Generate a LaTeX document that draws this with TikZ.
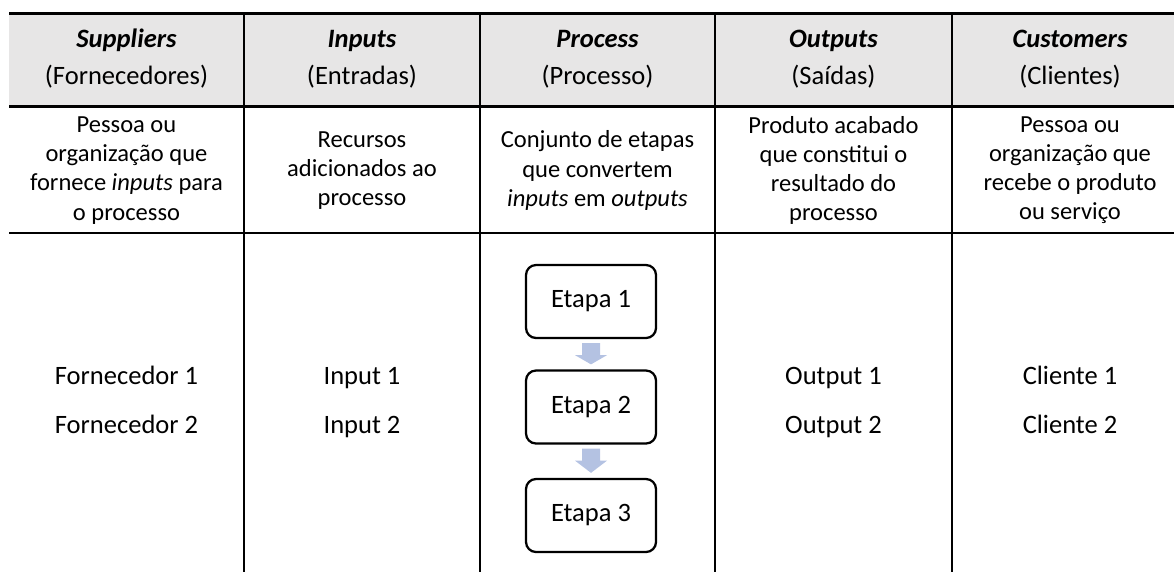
\documentclass[tikz,border=0pt]{standalone}
\usepackage{fontspec}
\setmainfont{Carlito}
\usetikzlibrary{calc}

\definecolor{headgray}{HTML}{E7E6E6}
\definecolor{flowblue}{HTML}{B4C2E2}

\begin{document}
\begin{tikzpicture}[x=0.75pt, y=-0.75pt,
    txt/.style={font=\fontsize{18.4}{21.8}\selectfont, inner sep=0pt, align=center},
    bigtxt/.style={txt, font=\fontsize{19.9}{23.5}\selectfont},
    headtitle/.style={txt, font=\fontsize{19.9}{23.5}\selectfont\bfseries\itshape, anchor=base},
    headsub/.style={bigtxt, anchor=base},
    desc/.style={txt, anchor=center},
    item/.style={bigtxt, anchor=base},
    stepbox/.style={draw, line width=1.7pt, rounded corners=7.5pt, minimum width=97.5pt,
                    minimum height=54.75pt, inner sep=0pt,
                    font=\fontsize{19.9}{23.5}\selectfont},
    flowarrow/.style={fill=flowblue, draw=none},
    thickrule/.style={line width=2.4pt},
    rule/.style={line width=1.6pt}]

  \useasboundingbox (0,0) rectangle (1174,572);

  % header band
  \fill[headgray] (9,15) rectangle (1174,106);

  % horizontal rules
  \draw[thickrule] (9,13.5) -- (1174,13.5);
  \draw[thickrule] (9,106.5) -- (1174,106.5);
  \draw[rule] (9,233) -- (1174,233);

  % column separators
  \foreach \x in {244,480,715,952}
    \draw[rule] (\x,12.5) -- (\x,572);

  % headers
  \node[headtitle] (h1) at (126.5,47) {Suppliers};
  \node[headsub]   (s1) at (126.5,84) {(Fornecedores)};
  \node[headtitle] (h2) at (362,47) {Inputs};
  \node[headsub]   (s2) at (362,84) {(Entradas)};
  \node[headtitle] (h3) at (597.5,47) {Process};
  \node[headsub]   (s3) at (597.5,84) {(Processo)};
  \node[headtitle] (h4) at (833.5,47) {Outputs};
  \node[headsub]   (s4) at (833.5,84) {(Saídas)};
  \node[headtitle] (h5) at (1070,47) {Customers};
  \node[headsub]   (s5) at (1070,84) {(Clientes)};

  % descriptions
  \node[desc] (d1) at (126.5,170.5) {Pessoa ou\\organização que\\fornece \textit{inputs} para\\o processo};
  \node[desc] (d2) at (362,170.5) {Recursos\\adicionados ao\\processo};
  \node[desc] (d3) at (597.5,170.5) {Conjunto de etapas\\que convertem\\\textit{inputs} em \textit{outputs}};
  \node[desc] (d4) at (833.5,170.5) {Produto acabado\\que constitui o\\resultado do\\processo};
  \node[desc] (d5) at (1070,170.5) {Pessoa ou\\organização que\\recebe o produto\\ou serviço};

  % items
  \node[item] (f1) at (126.5,384) {Fornecedor 1};
  \node[item] (f2) at (126.5,433) {Fornecedor 2};
  \node[item] (i1) at (362,384) {Input 1};
  \node[item] (i2) at (362,433) {Input 2};
  \node[item] (o1) at (833.5,384) {Output 1};
  \node[item] (o2) at (833.5,433) {Output 2};
  \node[item] (c1) at (1070,384) {Cliente 1};
  \node[item] (c2) at (1070,433) {Cliente 2};

  % process steps
  \node[stepbox] (e1) at (591,301.5) {Etapa 1};
  \node[stepbox] (e2) at (591,407) {Etapa 2};
  \node[stepbox] (e3) at (591,515.5) {Etapa 3};

  % block arrows between steps
  \foreach \a/\b in {e1/e2,e2/e3}{
    \fill[flowarrow]
      ($(\a.south)+(-9,4)$) -- ($(\a.south)+(9,4)$) -- ($(\a.south)+(9,16)$) --
      ($(\a.south)+(16,16)$) -- ($(\b.north)+(0,-5)$) -- ($(\a.south)+(-16,16)$) --
      ($(\a.south)+(-9,16)$) -- cycle;
  }
\end{tikzpicture}
\end{document}
